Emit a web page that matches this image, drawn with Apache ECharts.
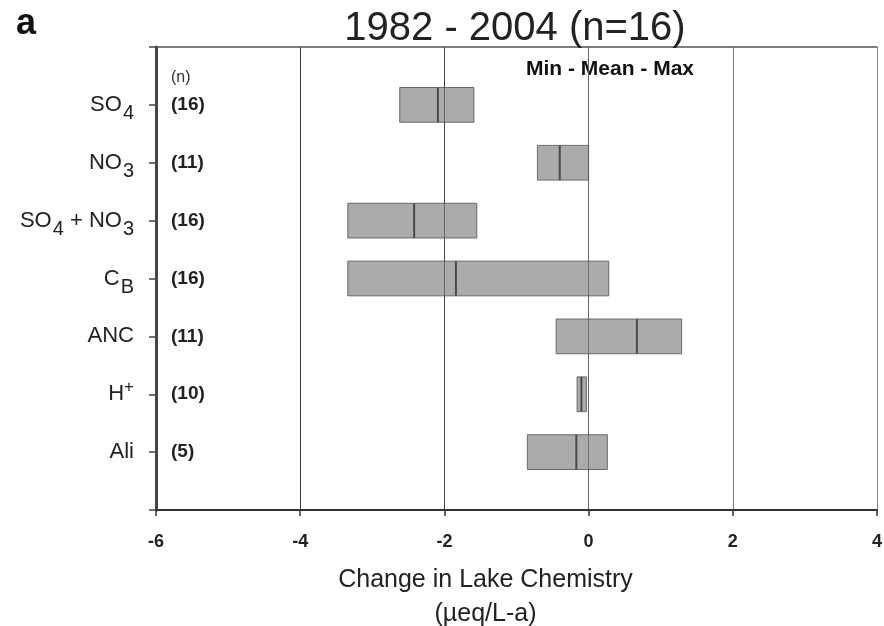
<!DOCTYPE html>
<html>
<head>
<meta charset="utf-8">
<script src="https://cdn.jsdelivr.net/npm/echarts@6/dist/echarts.min.js"></script>
<style>html,body{margin:0;padding:0;background:#fff}#c{width:884px;height:626px}</style>
</head>
<body>
<div id="c"></div>
<script>
const categories = ['SO4', 'NO3', 'SO4 + NO3', 'CB', 'ANC', 'H+', 'Ali'];
const nCounts = [16, 11, 16, 16, 11, 10, 5];
const minVals = [-2.62, -0.71, -3.34, -3.34, -0.45, -0.16, -0.85];
const meanVals = [-2.09, -0.40, -2.42, -1.84, 0.67, -0.10, -0.17];
const maxVals = [-1.59, 0.00, -1.55, 0.28, 1.29, -0.03, 0.26];
const xTickValues = [-6, -4, -2, 0, 2, 4];

const labelMarkup = {
  'SO4': '{m|SO}{s|4}',
  'NO3': '{m|NO}{s|3}',
  'SO4 + NO3': '{m|SO}{s|4}{m| + NO}{s|3}',
  'CB': '{m|C}{s|B}',
  'ANC': '{m|ANC}',
  'H+': '{m|H}{p|+}',
  'Ali': '{m|Ali}'
};

const FONT = '"Liberation Sans", Arial, Helvetica, sans-serif';
const chart = echarts.init(document.getElementById('c'), null, {renderer: 'canvas'});

const data = categories.map((c, i) => [i + 1, minVals[i], meanVals[i], maxVals[i]]);

chart.setOption({
  backgroundColor: '#fff',
  animation: false,
  textStyle: {fontFamily: FONT},
  title: [
    {text: 'a', left: 11, top: 1, textStyle: {fontFamily: FONT, fontSize: 36, fontWeight: 'bold', color: '#111'}},
    {text: '1982 - 2004 (n=16)', left: 510, textAlign: 'center', top: 4, textStyle: {fontFamily: FONT, fontSize: 40, fontWeight: 'normal', color: '#222'}}
  ],
  grid: {left: 156, right: 7, top: 47, bottom: 116, containLabel: false, outerBoundsMode: 'none'},
  xAxis: [
    {
      type: 'value', position: 'bottom', min: -6, max: 4, interval: 2,
      axisLine: {show: true, onZero: false, lineStyle: {color: '#333', width: 2}},
      axisTick: {show: true, length: 6, lineStyle: {color: '#333', width: 1.5}},
      axisLabel: {
        margin: 23, fontSize: 18, fontWeight: 'bold', color: '#222', fontFamily: FONT,
        customValues: xTickValues
      },
      splitLine: {show: true, lineStyle: {color: ['#333', '#3a3a3a', '#444', '#666', '#777', '#888'], width: 1}},
      name: 'Change in Lake Chemistry\n(\u00b5eq/L-a)',
      nameLocation: 'middle', nameGap: 53,
      nameTextStyle: {fontSize: 25, color: '#222', lineHeight: 34, fontFamily: FONT, padding: [0, 62, 0, 0]}
    },
    {
      type: 'value', position: 'top', min: -6, max: 4, interval: 2,
      axisLine: {show: true, onZero: false, lineStyle: {color: '#555', width: 1.5}},
      axisTick: {show: false}, axisLabel: {show: false}, splitLine: {show: false}
    }
  ],
  yAxis: [
    {
      type: 'value', min: 0, max: 8, interval: 1, inverse: true, position: 'left',
      axisLine: {show: true, onZero: false, lineStyle: {color: '#444', width: 3}},
      axisTick: {show: true, length: 7, lineStyle: {color: '#444', width: 1.5}},
      splitLine: {show: false},
      axisLabel: {
        margin: 22, align: 'right', color: '#222',
        formatter: function (v) {
          const i = Math.round(v) - 1;
          if (i < 0 || i >= categories.length) return '';
          return labelMarkup[categories[i]];
        },
        rich: {
          m: {fontSize: 22, color: '#222', fontFamily: FONT},
          s: {fontSize: 20, color: '#222', fontFamily: FONT, padding: [17, 0, 0, 1]},
          p: {fontSize: 17, color: '#222', fontFamily: FONT, padding: [0, 0, 14, 0]}
        }
      }
    },
    {
      type: 'value', min: 0, max: 8, interval: 1, inverse: true, position: 'left',
      axisLine: {show: false}, axisTick: {show: false}, splitLine: {show: false},
      axisLabel: {
        inside: true, margin: 15, align: 'left', fontSize: 19, fontWeight: 'bold', color: '#222', fontFamily: FONT,
        formatter: function (v) {
          const i = Math.round(v) - 1;
          if (i < 0 || i >= nCounts.length) return '';
          return '(' + nCounts[i] + ')';
        }
      }
    }
  ],
  graphic: [
    {type: 'text', left: 171, top: 70, style: {text: '(n)', font: '16px ' + FONT, fill: '#333'}},
    {type: 'text', left: 526, top: 59, style: {text: 'Min - Mean - Max', font: 'bold 21px ' + FONT, fill: '#111'}}
  ],
  series: [{
    type: 'custom',
    xAxisIndex: 0, yAxisIndex: 0,
    encode: {x: [1, 2, 3], y: 0},
    data: data,
    renderItem: function (params, api) {
      const y = api.value(0);
      const pMin = api.coord([api.value(1), y]);
      const pMean = api.coord([api.value(2), y]);
      const pMax = api.coord([api.value(3), y]);
      const h = api.size([0, 1])[1] * 0.6;
      return {
        type: 'group',
        children: [
          {type: 'rect', shape: {x: pMin[0], y: pMin[1] - h / 2, width: pMax[0] - pMin[0], height: h},
           style: {fill: 'rgba(120,120,120,0.62)', stroke: 'rgba(80,80,80,0.8)', lineWidth: 1}},
          {type: 'line', shape: {x1: pMean[0], y1: pMean[1] - h / 2, x2: pMean[0], y2: pMean[1] + h / 2},
           style: {stroke: '#4a4a4a', lineWidth: 2}}
        ]
      };
    }
  }]
});
</script>
</body>
</html>
